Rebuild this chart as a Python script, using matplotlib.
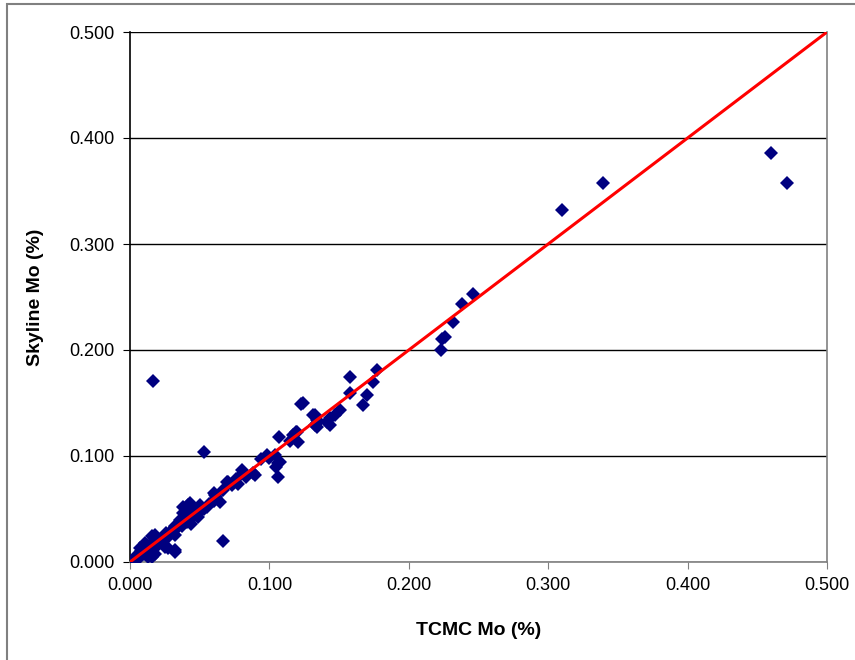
import matplotlib
matplotlib.use('Agg')
import matplotlib.pyplot as plt
import matplotlib.patches as patches

# TCMC Mo (%) vs Skyline Mo (%)
tcmc = [
    0.0165, 0.053, 0.067,
    0.107, 0.119, 0.115, 0.1205, 0.134, 0.098, 0.104, 0.1076, 0.105, 0.106,
    0.080, 0.0897, 0.0777, 0.0705, 0.0646, 0.061, 0.043, 0.0407, 0.049,
    0.0359, 0.032, 0.018, 0.025, 0.032, 0.0156, 0.0048, 0.0108,
    0.0418, 0.050, 0.038, 0.032, 0.025, 0.0108, 0.0072, 0.020, 0.0275,
    0.032, 0.018, 0.0036, 0.0131, 0.0048,
    0.123, 0.1327, 0.1327, 0.1196, 0.117, 0.1064, 0.081,
    0.158, 0.177, 0.1746, 0.158, 0.170, 0.167, 0.151, 0.147, 0.1435,
    0.141, 0.1435, 0.134, 0.1315, 0.134, 0.1243,
    0.0885, 0.0694, 0.067, 0.060, 0.038,
    0.310, 0.339, 0.4596, 0.471,
    0.246, 0.238, 0.232, 0.226, 0.224, 0.223,
    0.002, 0.004, 0.006, 0.008, 0.010, 0.012, 0.014, 0.016, 0.018, 0.020,
    0.022, 0.024, 0.026, 0.028, 0.030, 0.033, 0.035, 0.037, 0.039, 0.041,
    0.043, 0.045, 0.047, 0.049, 0.051, 0.053, 0.055, 0.057, 0.060, 0.062,
    0.042, 0.040, 0.036, 0.046, 0.044, 0.032, 0.017, 0.016,
    0.073, 0.076, 0.083, 0.094, 0.100,
]
skyline = [
    0.171, 0.104, 0.020,
    0.118, 0.123, 0.114, 0.1135, 0.131, 0.101, 0.101, 0.094, 0.090, 0.0805,
    0.087, 0.082, 0.074, 0.0758, 0.0569, 0.063, 0.0554, 0.0506, 0.0427,
    0.038, 0.0255, 0.0255, 0.0145, 0.0113, 0.005, 0.0035, 0.0145,
    0.0538, 0.054, 0.046, 0.033, 0.0255, 0.0176, 0.0129, 0.016, 0.0129,
    0.0097, 0.008, 0.005, 0.005, 0.0019,
    0.149, 0.1387, 0.129, 0.123, 0.120, 0.093, 0.0837,
    0.175, 0.181, 0.170, 0.159, 0.1575, 0.148, 0.1434, 0.1387, 0.1356,
    0.1324, 0.129, 0.134, 0.1387, 0.1277, 0.1497,
    0.0837, 0.0758, 0.068, 0.065, 0.052,
    0.332, 0.358, 0.3855, 0.358,
    0.2525, 0.243, 0.226, 0.2125, 0.210, 0.1997,
    0.002, 0.005, 0.004, 0.010, 0.008, 0.012, 0.016, 0.014, 0.020, 0.018,
    0.022, 0.020, 0.027, 0.025, 0.030, 0.031, 0.036, 0.034, 0.040, 0.038,
    0.044, 0.042, 0.046, 0.048, 0.049, 0.050, 0.052, 0.055, 0.058, 0.061,
    0.047, 0.044, 0.040, 0.050, 0.036, 0.034, 0.023, 0.025,
    0.073, 0.078, 0.080, 0.097, 0.098,
]
line_x = [0.0, 0.5]
line_y = [0.0, 0.5]
ticks = [0.0, 0.1, 0.2, 0.3, 0.4, 0.5]

plt.rcParams['font.family'] = ['Liberation Sans', 'DejaVu Sans']

fig = plt.figure(figsize=(8.55, 6.6), dpi=100)
ax = fig.add_axes([130 / 855, 98 / 660, 697 / 855, 530 / 660])

# chart-area frame, running off the right and bottom edges like the source
frame = patches.Rectangle((7 / 855, -0.05), 1.1, 1 - 4 / 660 + 0.05,
                          transform=fig.transFigure, fill=False,
                          edgecolor='#808080', linewidth=1.5)
fig.patches.append(frame)

ax.grid(axis='y', color='black', linewidth=1)
ax.set_axisbelow(True)
ax.plot(tcmc, skyline, linestyle='none', marker='D', markersize=7,
        color='#000080', markeredgewidth=0, zorder=3)
ax.plot(line_x, line_y, color='#ff0000', linewidth=2.2, zorder=4)

ax.set_xlim(0, 0.5)
ax.set_ylim(0, 0.5)
ax.set_xticks(ticks)
ax.set_yticks(ticks)
ax.set_xticklabels([f'{t:.3f}' for t in ticks])
ax.set_yticklabels([f'{t:.3f}' for t in ticks])
ax.tick_params(axis='both', direction='out', length=5, labelsize=13,
               color='#808080', pad=6)
ax.tick_params(axis='y', color='black')

ax.spines['left'].set_color('black')
ax.spines['bottom'].set_color('#808080')
ax.spines['right'].set_color('#808080')
ax.spines['top'].set_visible(False)
for s in ax.spines.values():
    s.set_linewidth(1.2)

ax.set_xlabel('TCMC Mo (%)', fontsize=14, fontweight='bold', labelpad=20)
ax.set_ylabel('Skyline Mo (%)', fontsize=14, fontweight='bold', labelpad=18)

fig.savefig('out.png', dpi=100)
